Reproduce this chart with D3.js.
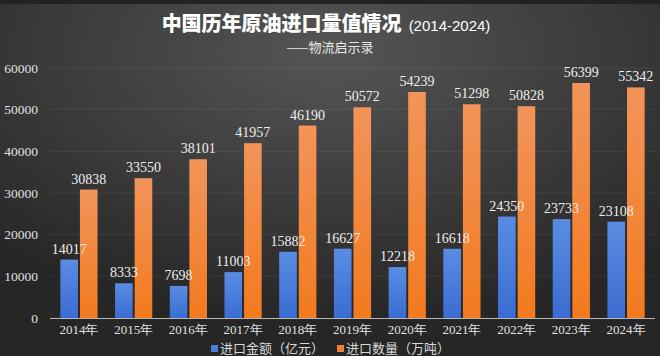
<!DOCTYPE html>
<html><head><meta charset="utf-8">
<script src="https://cdn.jsdelivr.net/npm/d3@7"></script>
<style>html,body{margin:0;padding:0;background:#2b2b2b;}svg{display:block;}</style>
</head><body>
<script>
const years = ["2014年","2015年","2016年","2017年","2018年","2019年","2020年","2021年","2022年","2023年","2024年"];
const amountValues = [14017, 8333, 7698, 11003, 15882, 16627, 12218, 16618, 24350, 23733, 23108];
const volumeValues = [30838, 33550, 38101, 41957, 46190, 50572, 54239, 51298, 50828, 56399, 55342];
const yTicks = [0, 10000, 20000, 30000, 40000, 50000, 60000];
const seriesNames = ["进口金额（亿元）", "进口数量（万吨）"];

const W = 660, H = 356;
const svg = d3.select("body").append("svg").attr("width", W).attr("height", H);
const defs = svg.append("defs");
const bg = defs.append("radialGradient").attr("id","bg").attr("cx","50%").attr("cy","15%").attr("r","75%");
bg.append("stop").attr("offset","0%").attr("stop-color","#555555");
bg.append("stop").attr("offset","100%").attr("stop-color","#262626");
const og = defs.append("linearGradient").attr("id","og").attr("x1",0).attr("y1",0).attr("x2",0).attr("y2",1);
og.append("stop").attr("offset","0%").attr("stop-color","#f2945a");
og.append("stop").attr("offset","100%").attr("stop-color","#f27a1e");
const bgr = defs.append("linearGradient").attr("id","bgr").attr("x1",0).attr("y1",0).attr("x2",0).attr("y2",1);
bgr.append("stop").attr("offset","0%").attr("stop-color","#5b8ce2");
bgr.append("stop").attr("offset","100%").attr("stop-color","#3a6cd2");

svg.append("rect").attr("width",W).attr("height",H).attr("fill","url(#bg)");
svg.append("rect").attr("width",W).attr("height",4).attr("fill","#222");

const x0 = d3.scaleBand().domain(years).range([51.6, 653.4]).paddingInner(0.32).paddingOuter(0.16);
const x1 = d3.scaleBand().domain([0,1]).range([0, x0.bandwidth()]).paddingInner(0.1);
const y = d3.scaleLinear().domain([0, 60000]).range([318, 68]);

const serif = "'Liberation Serif','DejaVu Serif',serif";

// grid
svg.append("g").selectAll("line").data(yTicks.filter(d=>d>0)).join("line")
  .attr("x1",50).attr("x2",655).attr("y1",d=>y(d)).attr("y2",d=>y(d))
  .attr("stroke","rgba(255,255,255,0.07)").attr("stroke-width",1);

// y axis
const yAxis = svg.append("g").attr("transform","translate(38,0)")
  .call(d3.axisLeft(y).tickValues(yTicks).tickSize(0).tickPadding(0).tickFormat(d3.format("d")));
yAxis.attr("font-family", null);
yAxis.select(".domain").remove();
yAxis.selectAll("text").attr("fill","#e0e0e0").style("font-family",serif).style("font-size","13.5px");

// bars
const groups = svg.append("g").selectAll("g").data(years).join("g")
  .attr("transform", d=>`translate(${x0(d)},0)`);
groups.append("rect").attr("x",x1(0)).attr("width",x1.bandwidth())
  .attr("y",(d,i)=>y(amountValues[i])).attr("height",(d,i)=>y(0)-y(amountValues[i]))
  .attr("fill","url(#bgr)");
groups.append("rect").attr("x",x1(1)).attr("width",x1.bandwidth())
  .attr("y",(d,i)=>y(volumeValues[i])).attr("height",(d,i)=>y(0)-y(volumeValues[i]))
  .attr("fill","url(#og)");

// x axis
const xAxis = svg.append("g").attr("transform","translate(0,318)")
  .call(d3.axisBottom(x0).tickSize(0).tickPadding(7));
xAxis.attr("font-family", null);
xAxis.select(".domain").attr("stroke","#b8b8b8").attr("d","M50,0.5H655");
xAxis.selectAll("text").attr("fill","#e0e0e0").style("font-family",serif).style("font-size","13px");

// labels
groups.append("text").attr("x",x1(0)+x1.bandwidth()/2).attr("y",(d,i)=>y(amountValues[i])-6)
  .attr("text-anchor","middle").attr("fill","#eeeeee").style("font-family",serif).style("font-size","14px")
  .text((d,i)=>amountValues[i]);
groups.append("text").attr("x",x1(1)+x1.bandwidth()/2).attr("y",(d,i)=>y(volumeValues[i])-6)
  .attr("text-anchor","middle").attr("fill","#eeeeee").style("font-family",serif).style("font-size","14px")
  .text((d,i)=>volumeValues[i]);

// title
const t = svg.append("text").attr("x",326).attr("y",31).attr("text-anchor","middle").attr("fill","#ffffff");
t.append("tspan").text("中国历年原油进口量值情况").style("font-family","'Noto Sans CJK SC',sans-serif").style("font-size","20px").style("font-weight","900");
t.append("tspan").text("(2014-2024)").style("font-family","'Liberation Sans',sans-serif").style("font-size","15px").attr("dx",7);
svg.append("text").attr("x",330).attr("y",52).attr("text-anchor","middle").attr("fill","#e8e8e8")
  .style("font-family","'Noto Sans CJK SC',sans-serif").style("font-size","13px").text("——物流启示录");

// legend
const colors = ["#4a7ddb","#f28030"];
const leg = svg.append("g");
const lx = [211, 337];
seriesNames.forEach((n,i)=>{
  leg.append("rect").attr("x",lx[i]).attr("y",345).attr("width",7).attr("height",7).attr("fill",colors[i]);
  leg.append("text").attr("x",lx[i]+9).attr("y",353).attr("fill","#d8d8d8")
    .style("font-family","'Noto Sans CJK SC',sans-serif").style("font-size","13px").text(n);
});
</script>
</body></html>
